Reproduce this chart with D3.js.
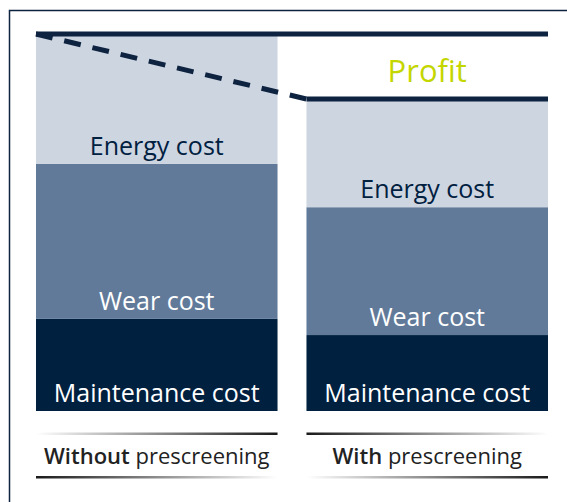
<!DOCTYPE html>
<html>
<head>
<meta charset="utf-8">
<script src="https://cdn.jsdelivr.net/npm/d3@7"></script>
<style>
  body { margin: 0; background: #fff; }
  text { font-family: "Open Sans", sans-serif; }
</style>
</head>
<body>
<div id="chart"></div>
<script>
// Chart data (index: cost of the case without prescreening = 100)
var groups = ["Without prescreening", "With prescreening"];
var groupBold = ["Without", "With"];
var groupRest = [" prescreening", " prescreening"];
var segments = ["Maintenance cost", "Wear cost", "Energy cost"];
var maintenance = [24.5, 20.2];
var wear = [41.2, 34.0];
var energy = [34.3, 28.5];

function init() {
    var w = 567;
    var h = 502;

    var svg = d3.select("#chart")
                .append("svg")
                .attr("width", w)
                .attr("height", h);

    // frame (only top and left edges are visible in the picture)
    svg.append("rect")
        .attr("x", 9.5)
        .attr("y", 10.5)
        .attr("width", 600)
        .attr("height", 600)
        .attr("fill", "none")
        .attr("stroke", "#0d2340")
        .attr("stroke-width", 1.5);

    // stack the three segments per group
    var rows = groups.map(function(g, i) {
        return { group: g, "Maintenance cost": maintenance[i], "Wear cost": wear[i], "Energy cost": energy[i] };
    });
    var stacked = d3.stack().keys(segments)(rows);

    var xScale = d3.scaleBand()
        .domain(groups)
        .range([36, 548])
        .paddingInner(0.107);

    var yScale = d3.scaleLinear()
        .domain([0, 100])
        .range([411, 35]);

    var colors = d3.scaleOrdinal()
        .domain(segments)
        .range(["#00203f", "#627a99", "#cdd5e1"]);
    var textColors = d3.scaleOrdinal()
        .domain(segments)
        .range(["#ffffff", "#ffffff", "#00203f"]);

    var layer = svg.selectAll("g.layer")
        .data(stacked)
        .enter()
        .append("g")
        .attr("class", "layer");

    layer.selectAll("rect")
        .data(function(d) { return d.map(function(p) { return { key: d.key, p: p }; }); })
        .enter()
        .append("rect")
        .attr("x", function(d) { return xScale(d.p.data.group); })
        .attr("y", function(d) { return yScale(d.p[1]); })
        .attr("width", xScale.bandwidth())
        .attr("height", function(d) { return yScale(d.p[0]) - yScale(d.p[1]); })
        .attr("fill", function(d) { return colors(d.key); });

    // segment labels near the bottom of each segment
    layer.selectAll("text")
        .data(function(d) { return d.map(function(p) { return { key: d.key, p: p }; }); })
        .enter()
        .append("text")
        .attr("x", function(d) { return xScale(d.p.data.group) + xScale.bandwidth() / 2; })
        .attr("y", function(d) { return yScale(d.p[0]) - 9; })
        .attr("text-anchor", "middle")
        .attr("font-size", 25)
        .attr("font-weight", 500)
        .attr("fill", function(d) { return textColors(d.key); })
        .text(function(d) { return d.key; });

    // totals
    var totals = groups.map(function(g, i) { return maintenance[i] + wear[i] + energy[i]; });
    var left0 = xScale(groups[0]);
    var left1 = xScale(groups[1]);
    var right1 = left1 + xScale.bandwidth();
    var lineColor = "#0d2340";

    // top line of the first total, running across to the right end
    svg.append("line")
        .attr("x1", left0).attr("x2", right1)
        .attr("y1", yScale(totals[0]) - 1).attr("y2", yScale(totals[0]) - 1)
        .attr("stroke", lineColor).attr("stroke-width", 5);

    // top line of the second total
    svg.append("line")
        .attr("x1", left1).attr("x2", right1)
        .attr("y1", yScale(totals[1]) - 1).attr("y2", yScale(totals[1]) - 1)
        .attr("stroke", lineColor).attr("stroke-width", 5);

    // dashed drop between the totals
    svg.append("line")
        .attr("x1", left0).attr("y1", yScale(totals[0]) - 1)
        .attr("x2", left1).attr("y2", yScale(totals[1]) - 1)
        .attr("stroke", lineColor).attr("stroke-width", 5)
        .attr("stroke-dasharray", "17,12");

    // profit label
    svg.append("text")
        .attr("x", left1 + xScale.bandwidth() / 2)
        .attr("y", (yScale(totals[0]) + yScale(totals[1])) / 2 + 14)
        .attr("text-anchor", "middle")
        .attr("font-size", 31)
        .attr("fill", "#c4d600")
        .text("Profit");

    // gradients for the thin rules around the group labels
    var defs = svg.append("defs");
    function grad(id, from, to) {
        var g = defs.append("linearGradient").attr("id", id);
        g.append("stop").attr("offset", "0%").attr("stop-color", from);
        g.append("stop").attr("offset", "100%").attr("stop-color", to);
    }
    grad("lightDark", "#ffffff", "#1a1a1a");
    grad("darkLight", "#1a1a1a", "#ffffff");

    var rules = [
        { group: groups[0], y: 432.5, fill: "url(#lightDark)" },
        { group: groups[0], y: 476, fill: "url(#darkLight)" },
        { group: groups[1], y: 432.5, fill: "url(#darkLight)" },
        { group: groups[1], y: 476, fill: "url(#lightDark)" }
    ];
    svg.selectAll("rect.rule")
        .data(rules)
        .enter()
        .append("rect")
        .attr("class", "rule")
        .attr("x", function(d) { return xScale(d.group); })
        .attr("y", function(d) { return d.y; })
        .attr("width", xScale.bandwidth())
        .attr("height", 2.5)
        .attr("fill", function(d) { return d.fill; });

    // group labels
    var labels = svg.selectAll("text.group")
        .data(groups)
        .enter()
        .append("text")
        .attr("class", "group")
        .attr("x", function(d) { return xScale(d) + xScale.bandwidth() / 2; })
        .attr("y", 464)
        .attr("text-anchor", "middle")
        .attr("font-size", 22)
        .attr("fill", "#222222");
    labels.append("tspan")
        .attr("font-weight", 600)
        .text(function(d, i) { return groupBold[i]; });
    labels.append("tspan")
        .text(function(d, i) { return groupRest[i]; });
}

window.onload = init;
</script>
</body>
</html>
